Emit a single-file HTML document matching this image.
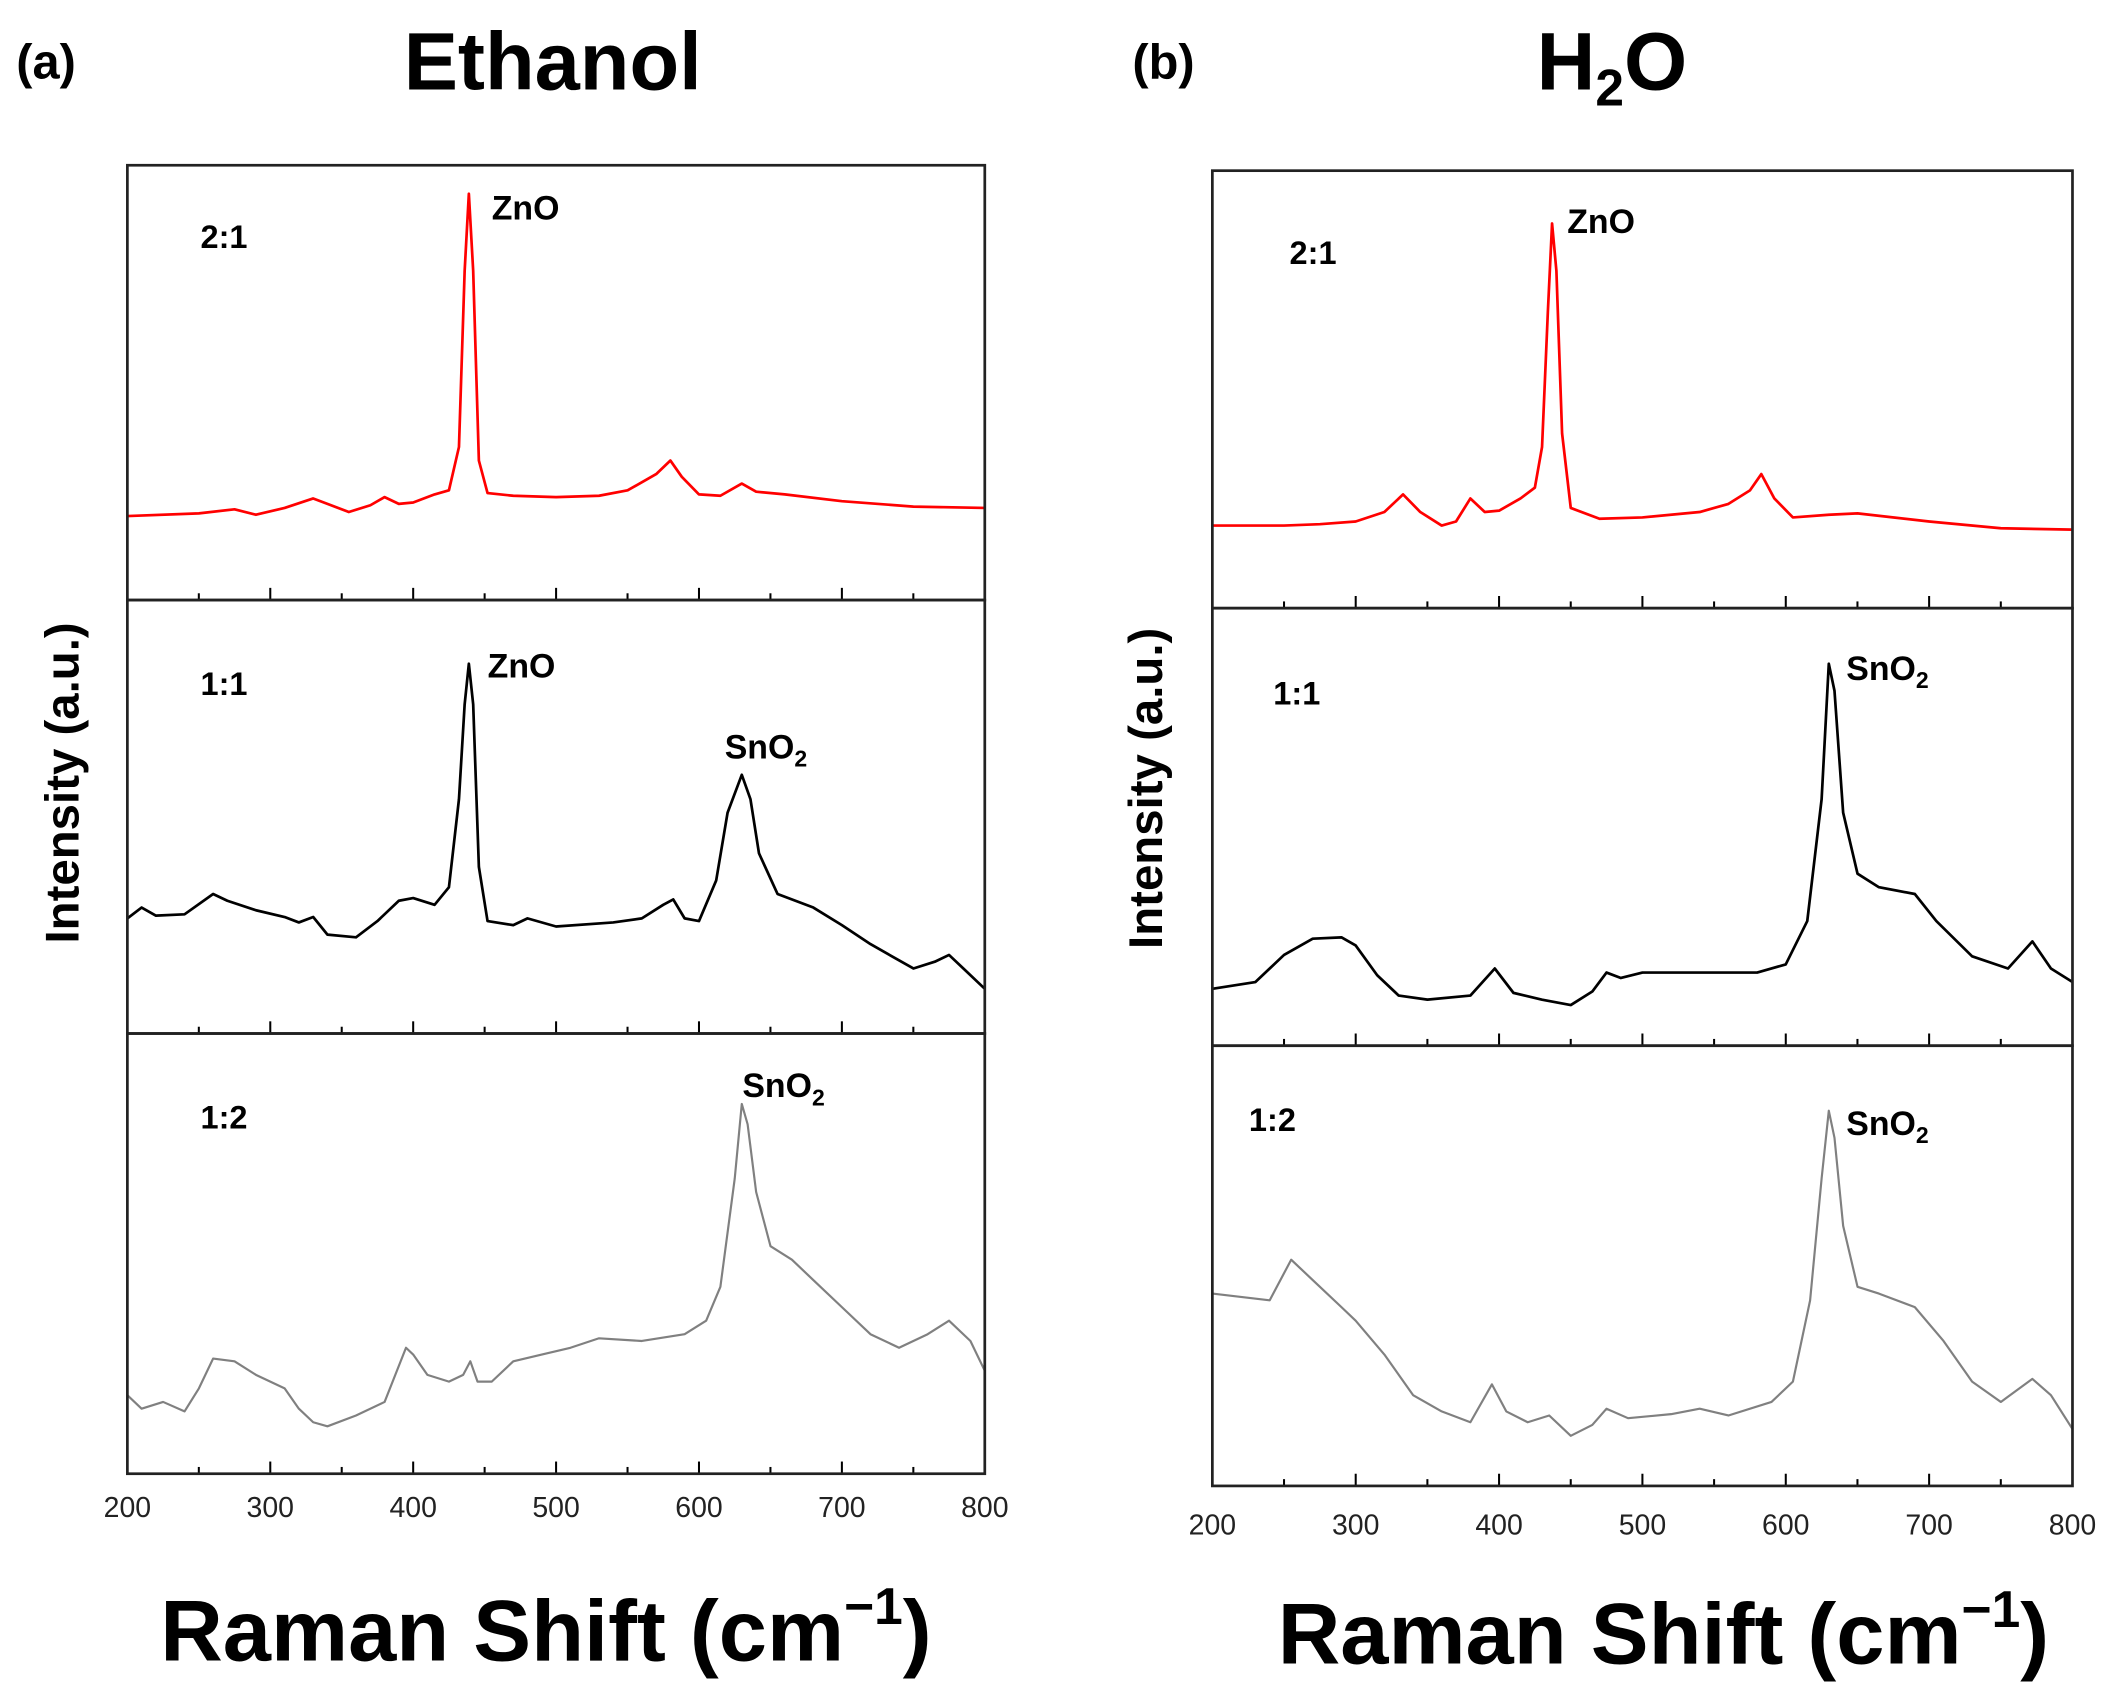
<!DOCTYPE html>
<html><head><meta charset="utf-8">
<style>
html,body{margin:0;padding:0;background:#fff;}
svg{display:block;}
text{font-family:"Liberation Sans",sans-serif;}
</style></head>
<body>
<svg id="fig" width="2124" height="1704" viewBox="0 0 1568 1258" xmlns="http://www.w3.org/2000/svg">
  <text x="12" y="58" font-size="36" font-weight="bold">(a)</text>
  <text x="408" y="66" font-size="60" font-weight="bold" text-anchor="middle">Ethanol</text>
  <text x="836" y="58" font-size="36" font-weight="bold">(b)</text>
  <text x="1190" y="66" font-size="60" font-weight="bold" text-anchor="middle">H<tspan font-size="38" dy="12">2</tspan><tspan dy="-12">O</tspan></text>
  <text transform="translate(58,578) rotate(-90)" font-size="35" font-weight="bold" text-anchor="middle">Intensity (a.u.)</text>
  <text transform="translate(858,582) rotate(-90)" font-size="35" font-weight="bold" text-anchor="middle">Intensity (a.u.)</text>
  <text x="403" y="1226" font-size="64" font-weight="bold" text-anchor="middle">Raman Shift (cm<tspan font-size="38" dy="-27">−1</tspan><tspan dy="27">)</tspan></text>
  <text x="1228" y="1228" font-size="64" font-weight="bold" text-anchor="middle">Raman Shift (cm<tspan font-size="38" dy="-27">−1</tspan><tspan dy="27">)</tspan></text>
  <g id="plots"></g>
</svg>
<script>
// ---- data (x: Raman shift cm^-1, values: intensity a.u.) ----
const ethTopX = [200,250,275,290,310,330,340,355,370,380,390,400,415,425,432,436,439,442,446,452,470,500,530,550,570,580,588,600,615,630,640,660,700,750,800];
const ethTopY = [62,64,67,63,68,75,71,65,70,76,71,72,78,81,113,243,300,243,103,79,77,76,77,81,93,103,91,78,77,86,80,78,73,69,68];
const ethMidX = [200,210,220,240,260,270,290,310,320,330,340,360,375,390,400,415,425,432,436,439,442,446,452,470,480,500,540,560,575,582,590,600,612,620,630,636,642,655,680,700,720,750,765,775,785,800];
const ethMidY = [85,93,87,88,103,98,91,86,82,86,73,71,83,98,100,95,108,173,243,273,243,123,83,80,85,79,82,85,95,99,85,83,113,163,191,173,133,103,93,80,66,48,53,58,48,33];
const ethBotX = [200,210,225,240,250,260,275,290,310,320,330,340,360,380,395,400,410,425,435,440,445,455,470,490,510,530,560,590,605,615,625,630,634,640,650,665,680,700,720,740,760,775,790,800];
const ethBotY = [58,48,53,46,63,85,83,73,63,48,38,35,43,53,93,88,73,68,73,83,68,68,83,88,93,100,98,103,113,138,218,273,258,208,168,158,143,123,103,93,103,113,98,76];
const h2oTopX = [200,250,275,300,320,333,345,360,370,380,390,400,415,425,430,434,437,440,444,450,470,500,540,560,575,583,592,605,630,650,700,750,800];
const h2oTopY = [61,61,62,64,71,84,71,61,64,81,71,72,81,89,119,219,284,249,129,74,66,67,71,77,87,99,81,67,69,70,64,59,58];
const h2oMidX = [200,230,250,270,290,300,315,330,350,380,397,410,430,450,465,475,485,500,540,580,600,615,625,630,634,640,650,665,690,705,730,755,772,785,800];
const h2oMidY = [42,47,67,79,80,74,52,37,34,37,57,39,34,30,40,54,50,54,54,54,60,92,182,282,262,172,127,117,112,92,66,57,77,57,47];
const h2oBotX = [200,240,255,270,290,300,320,340,360,380,395,405,420,435,450,465,475,490,520,540,560,590,605,617,625,630,634,640,650,665,690,710,730,750,772,785,800];
const h2oBotY = [142,137,167,152,132,122,97,67,55,47,75,55,47,52,37,45,57,50,53,57,52,62,77,137,227,277,257,192,147,142,132,107,77,62,79,67,42];
const tickLabels = ["200","300","400","500","600","700","800"];
const tickValues = [200,300,400,500,600,700,800];

const panels = [
  {name:"ethanol-2to1", x0:94,x1:727,y0:122,y1:443,xs:ethTopX,ys:ethTopY,color:"#ff0000",label:"2:1",lx:148,ly:183,anns:[["ZnO",363,162]],w:2},
  {name:"ethanol-1to1", x0:94,x1:727,y0:443,y1:763,xs:ethMidX,ys:ethMidY,color:"#000000",label:"1:1",lx:148,ly:513,anns:[["ZnO",360,500],["SnO2",535,560]],w:2},
  {name:"ethanol-1to2", x0:94,x1:727,y0:763,y1:1088,xs:ethBotX,ys:ethBotY,color:"#808080",label:"1:2",lx:148,ly:833,anns:[["SnO2",548,810]],w:1.6,ticks:1120},
  {name:"water-2to1", x0:895,x1:1530,y0:126,y1:449,xs:h2oTopX,ys:h2oTopY,color:"#ff0000",label:"2:1",lx:952,ly:195,anns:[["ZnO",1157,172]],w:2},
  {name:"water-1to1", x0:895,x1:1530,y0:449,y1:772,xs:h2oMidX,ys:h2oMidY,color:"#000000",label:"1:1",lx:940,ly:520,anns:[["SnO2",1363,502]],w:2},
  {name:"water-1to2", x0:895,x1:1530,y0:772,y1:1097,xs:h2oBotX,ys:h2oBotY,color:"#808080",label:"1:2",lx:922,ly:835,anns:[["SnO2",1363,838]],w:1.6,ticks:1133}
];
const NS="http://www.w3.org/2000/svg";
const root=document.getElementById("plots");
function mk(tag,attrs,parent){const e=document.createElementNS(NS,tag);for(const k in attrs)e.setAttribute(k,attrs[k]);(parent||root).appendChild(e);return e;}
panels.forEach(p=>{
  const sx=v=>p.x0+(v-200)/(800-200)*(p.x1-p.x0);
  const sy=v=>p.y1-v;
  const g=mk("g",{});
  
  
  const d=p.xs.map((x,i)=>(i?"L":"M")+sx(x).toFixed(1)+","+sy(p.ys[i]).toFixed(1)).join("");
  const path=mk("path",{d:d,fill:"none",stroke:p.color,"stroke-width":p.w,"stroke-linejoin":"round"},g);
  
  
  for(let v=250;v<800;v+=50){
    const major=(v%100===0);
    const t=mk("line",{x1:sx(v),x2:sx(v),y1:p.y1,y2:p.y1-(major?9:5),stroke:"#000","stroke-width":1.5},g);
    
    
  }
  const fr=mk("rect",{x:p.x0,y:p.y0,width:p.x1-p.x0,height:p.y1-p.y0,fill:"none",stroke:"#222","stroke-width":2},g);
  
  
  const lb=mk("text",{x:p.lx,y:p.ly,"font-size":24,"font-weight":"bold"},g);
  lb.textContent=p.label;
  
  
  p.anns.forEach(a=>{
    const t=mk("text",{x:a[1],y:a[2],"font-size":25,"font-weight":"bold"},g);
    
    
    if(a[0]==="SnO2"){t.textContent="SnO";const s=mk("tspan",{"font-size":17,dy:6},t);s.textContent="2";}
    else t.textContent=a[0];
  });
  if(p.ticks){
    tickValues.forEach((v,i)=>{
      const t=mk("text",{x:sx(v),y:p.ticks,"font-size":21,"text-anchor":"middle",fill:"#222"},g);
      t.textContent=tickLabels[i];
      
      
    });
  }
});
</script>
</body></html>
